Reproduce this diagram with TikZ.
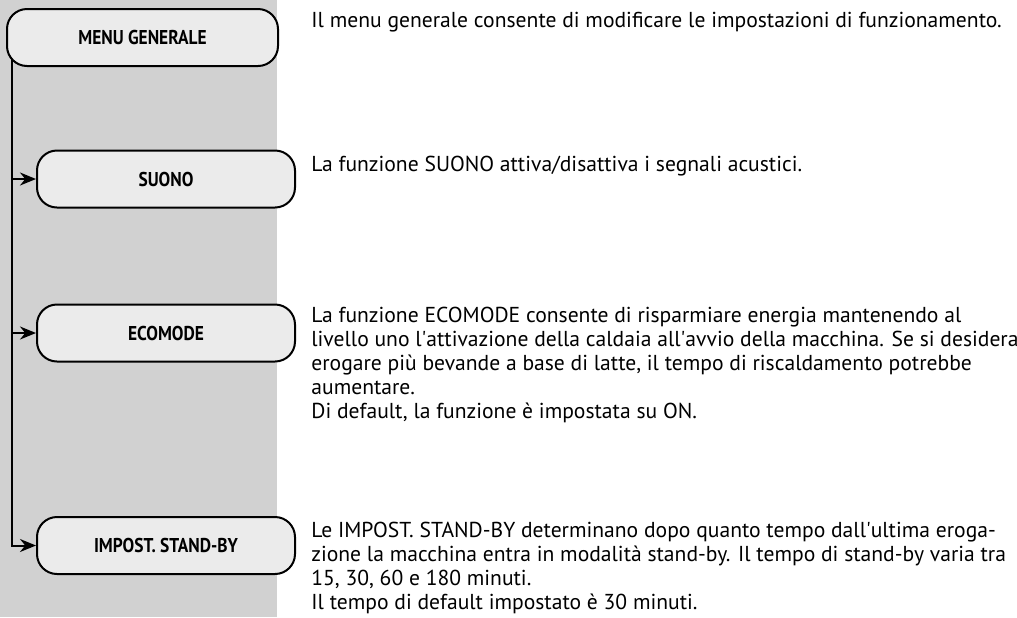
\documentclass[tikz,border=0pt]{standalone}
\usepackage{fontspec}
\setmainfont{PT Sans}
\newfontfamily\labelfont{PT Sans}[FakeStretch=0.87]
\usetikzlibrary{arrows.meta}
\definecolor{panelgray}{HTML}{D1D1D1}
\definecolor{boxgray}{HTML}{EBEBEB}
\newcommand\apo{\textquotesingle}
\tikzset{
	menubox/.style = {draw, line width=1pt, fill=boxgray, rounded corners=10pt, minimum width=129pt, minimum height=28.5pt, inner sep=0pt, font=\labelfont\bfseries\fontsize{10}{12}\selectfont},
	infotext/.style = {anchor=base west, align=left, inner sep=0pt, font=\fontsize{10.8}{12}\selectfont},
	link/.style = {line width=1pt, -{Stealth[length=8pt,width=6.5pt]}}
}
\begin{document}
\begin{tikzpicture}[x = 0.5pt, y = -0.5pt]
	\useasboundingbox (0,0) rectangle (1017,617);
	\fill [panelgray] (0,0) rectangle (277,617);
	% menu boxes
	\node [menubox, minimum width=135.5pt] (menu) at (142.5,37.5) {MENU GENERALE};
	\node [menubox] (suono) at (166,179) {SUONO};
	\node [menubox] (ecomode) at (166,333) {ECOMODE};
	\node [menubox] (standby) at (166,545.5) {IMPOST. STAND-BY};
	% connectors
	\coordinate (spine) at (12,60);
	\draw [link] (spine) |- (standby.west);
	\foreach \item in {suono,ecomode}{
	\draw [link] (spine |- \item.west) -- (\item.west);
	}
	% descriptions (base = last line)
	\node [infotext] (menutext) at (311,27) {Il menu generale consente di modificare le impostazioni di funzionamento.};
	\node [infotext] (suonotext) at (311,171) {La funzione SUONO attiva/disattiva i segnali acustici.};
	\node [infotext] (ecotext) at (311,418) {La funzione ECOMODE consente di risparmiare energia mantenendo al\\livello uno l\apo attivazione della caldaia all\apo avvio della macchina. Se si desidera\\erogare più bevande a base di latte, il tempo di riscaldamento potrebbe\\aumentare.\\Di default, la funzione è impostata su ON.};
	\node [infotext] (standbytext) at (311,609) {Le IMPOST. STAND-BY determinano dopo quanto tempo dall\apo ultima eroga-\\zione la macchina entra in modalità stand-by. Il tempo di stand-by varia tra\\15, 30, 60 e 180 minuti.\\Il tempo di default impostato è 30 minuti.};
\end{tikzpicture}
\end{document}
